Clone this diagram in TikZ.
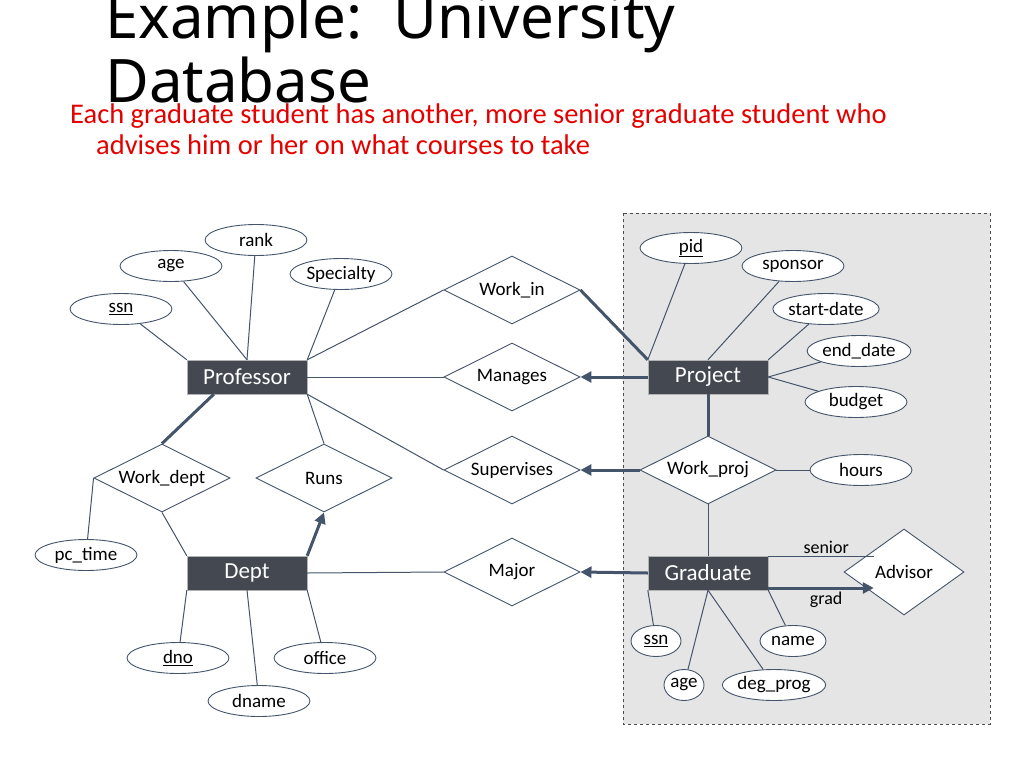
\documentclass[tikz,border=0pt]{standalone}
\usepackage{fontspec}
\setmainfont{Carlito}
\newfontfamily\titlefont{Noto Sans}
\usetikzlibrary{shapes.geometric,arrows.meta}
\begin{document}
\begin{tikzpicture}[x=1pt,y=-1pt]
\tikzstyle{entity}=[draw=gray!60, fill={rgb,255:red,68;green,72;blue,80}, text=white, minimum width=120pt, minimum height=34pt, inner sep=0pt, font=\fontsize{23}{23}\selectfont]
\tikzstyle{rel}=[draw={rgb,255:red,68;green,84;blue,106}, line width=0.9pt, fill=white, diamond, aspect=2, minimum width=136pt, minimum height=68pt, inner sep=0pt, font=\fontsize{19}{19}\selectfont]
\tikzstyle{attr}=[draw={rgb,255:red,68;green,84;blue,106}, line width=0.9pt, fill=white, ellipse, minimum width=102pt, minimum height=31pt, inner sep=0pt, font=\fontsize{19}{19}\selectfont]
\tikzstyle{thin}=[draw={rgb,255:red,68;green,84;blue,106}, line width=1pt]
\tikzstyle{thick}=[draw={rgb,255:red,68;green,84;blue,106}, line width=3pt]
\tikzstyle{arr}=[thick, -{Triangle[length=11pt,width=11pt]}]
\useasboundingbox (0,0) rectangle (1024,768);

% title
\node[anchor=base west, inner sep=0pt, font=\titlefont\fontsize{60}{60}\selectfont] (title1) at (105,38) {Example:\ \ University};
\node[anchor=base west, inner sep=0pt, font=\titlefont\fontsize{60}{60}\selectfont] (title2) at (105,102) {Database};
\node[anchor=base west, inner sep=0pt, text=red!90!black, font=\fontsize{28.5}{28.5}\selectfont] (sub1) at (70,123) {Each graduate student has another, more senior graduate student who};
\node[anchor=base west, inner sep=0pt, text=red!90!black, font=\fontsize{28.5}{28.5}\selectfont] (sub2) at (96,154) {advises him or her on what courses to take};

% shaded part
\draw[gray!60!black, dashed, fill=gray!20] (623,213) rectangle (990,724);

% entities
\node[entity] (prof) at (247,377) {Professor};
\node[entity] (proj) at (708,377) {Project};
\node[entity] (dept) at (247,573) {Dept};
\node[entity] (grad) at (708,573) {Graduate};

% relationships
\node[rel] (workin) at (512,290) {Work\_in};
\node[rel] (manages) at (512,377) {Manages};
\node[rel] (superv) at (512,470) {Supervises};
\node[rel] (major) at (512,572) {Major};
\node[rel] (workdept) at (162,478) {Work\_dept};
\node[rel] (runs) at (324,478) {Runs};
\node[rel] (workproj) at (708,470) {Work\_proj};
\node[rel, minimum width=120pt, minimum height=86pt, aspect=1.4] (advisor) at (904,572) {Advisor};

% attributes
\node[attr] (rank) at (256,240) {rank};
\node[attr] (age) at (171,266) {age};
\node[attr] (spec) at (341,274) {Specialty};
\node[attr] (ssn) at (121,309) {\underline{ssn}};
\node[attr] (pctime) at (86,555) {pc\_time};
\node[attr] (dno) at (178,658) {\underline{dno}};
\node[attr] (office) at (325,658) {office};
\node[attr] (dname) at (259,701) {dname};
\node[attr] (pid) at (691,248) {\underline{pid}};
\node[attr] (sponsor) at (793,266) {sponsor};
\node[attr] (start) at (826,309) {start-date};
\node[attr] (end) at (859,351) {end\_date};
\node[attr] (budget) at (856,402) {budget};
\node[attr] (hours) at (861,470) {hours};
\node[attr, minimum width=50pt] (gssn) at (656,641) {\underline{ssn}};
\node[attr, minimum width=66pt] (gname) at (793,641) {name};
\node[attr, minimum width=40pt] (gage) at (684,685) {age};
\node[attr] (degprog) at (774,685) {deg\_prog};

% attribute links
\draw[thin] (prof.north) -- (rank);
\draw[thin] (prof.north) -- (age);
\draw[thin] (prof.north east) -- (spec);
\draw[thin] (prof.north west) -- (ssn);
\draw[thin] (workdept.west) -- (pctime);
\draw[thin] (dept.south west) -- (dno);
\draw[thin] (dept.south) -- (dname);
\draw[thin] (dept.south east) -- (office);
\draw[thin] (proj.north west) -- (pid);
\draw[thin] (proj.north) -- (sponsor);
\draw[thin] (proj.north east) -- (start);
\draw[thin] (proj.east) -- (end);
\draw[thin] (proj.east) -- (budget);
\draw[thin] (workproj.east) -- (hours);
\draw[thin] (grad.south west) -- (gssn);
\draw[thin] (grad.south) -- (gage);
\draw[thin] (grad.south) -- (degprog);
\draw[thin] (grad.south east) -- (gname);

% relationship links
\draw[thin] (prof.north east) -- (workin.west);
\draw[thick] (workin.east) -- (proj.north west);
\draw[thin] (prof.east) -- (manages.west);
\draw[arr] (proj.west) -- (manages.east);
\draw[thin] (prof.south east) -- (superv.west);
\draw[arr] (workproj.west) -- (superv.east);
\draw[thin] (dept.east) -- (major.west);
\draw[arr] (grad.west) -- (major.east);
\draw[thick] (prof.south west) ++(27,0) coordinate (pw) -- (workdept.north);
\draw[thin] (workdept.south) -- (dept.north west);
\draw[thin] (prof.south east) -- (runs.north);
\draw[arr] (dept.north east) -- (runs.south);
\draw[thick] (proj.south) -- (workproj.north);
\draw[thin] (workproj.south) -- (grad.north);
\coordinate (senA) at (768,556);
\coordinate (gradA) at (768,588);
\draw[thin] (senA) -- (advisor.north west |- senA) node[pos=0.55, above, font=\fontsize{18}{18}\selectfont, inner sep=2pt] (senior) {senior};
\draw[arr] (gradA) -- (advisor.south west |- gradA) node[pos=0.55, below, font=\fontsize{18}{18}\selectfont, inner sep=2pt] (gradlbl) {grad};
\end{tikzpicture}
\end{document}
